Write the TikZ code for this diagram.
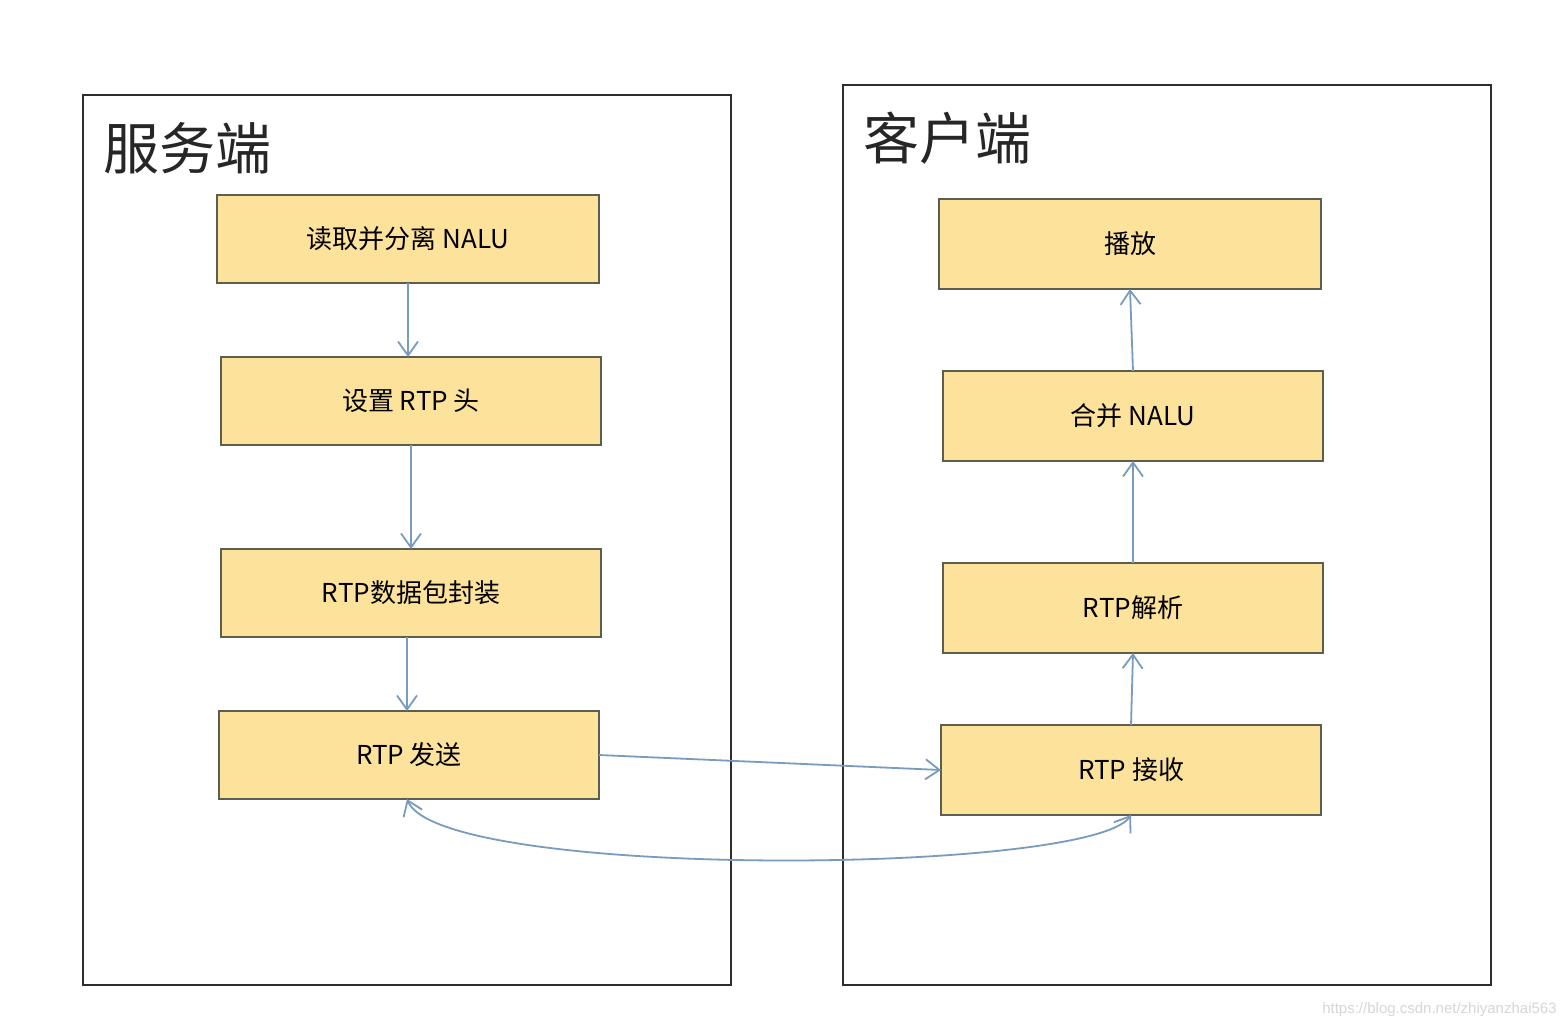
\documentclass[tikz,border=0pt]{standalone}
\usepackage{fontspec}
\setmainfont{Noto Sans CJK SC}
\newfontfamily\wmfont{Liberation Sans}
\usetikzlibrary{arrows.meta}
\definecolor{boxfill}{RGB}{252,226,154}
\definecolor{boxline}{RGB}{90,95,80}
\definecolor{arrowc}{RGB}{120,155,190}
\definecolor{panelline}{RGB}{45,45,45}
\tikzset{
  panel/.style={draw=panelline, line width=1pt, inner sep=0pt, outer sep=0pt},
  stepbox/.style={draw=boxline, fill=boxfill, line width=1pt, inner sep=0pt, outer sep=0pt,
    minimum width=191pt, minimum height=44pt, font=\fontsize{13}{15}\selectfont},
  title/.style={font=\fontsize{28}{32}\selectfont, inner sep=0pt, anchor=west, text=black!85},
  flow/.style={draw=arrowc, line width=0.9pt, -{Straight Barb[length=7pt, width=10pt]}},
}
\begin{document}
\begin{tikzpicture}[x=0.5pt, y=-0.5pt]
\useasboundingbox (0,0) rectangle (1566,1028);
% panels
\node[panel, minimum width=324pt, minimum height=445pt] (lp) at (407,540) {};
\node[panel, minimum width=324pt, minimum height=450pt] (rp) at (1167,535) {};
\node[title] (lt) at (103,148) {服务端};
\node[title] (rt) at (863,138) {客户端};
% left boxes
\node[stepbox] (b1) at (408,239) {读取并分离 NALU};
\node[stepbox, minimum width=190pt] (b2) at (411,401) {设置 RTP 头};
\node[stepbox, minimum width=190pt] (b3) at (411,593) {RTP数据包封装};
\node[stepbox, minimum width=190pt] (b4) at (409,755) {RTP 发送};
% right boxes
\node[stepbox, minimum height=45pt] (r1) at (1130,244) {播放};
\node[stepbox, minimum width=190pt, minimum height=45pt] (r2) at (1133,416) {合并 NALU};
\node[stepbox, minimum width=190pt, minimum height=45pt] (r3) at (1133,608) {RTP解析};
\node[stepbox, minimum width=190pt, minimum height=45pt] (r4) at (1131,770) {RTP 接收};
% arrows
\draw[flow] (b1.south -| 408,0) -- (b2.north -| 408,0);
\draw[flow] (b2.south) -- (b3.north);
\draw[flow] (b3.south -| 407,0) -- (b4.north -| 407,0);
\draw[flow] (b4.east) -- (r4.west);
\draw[flow, {Straight Barb[length=7pt, width=10pt]}-{Straight Barb[length=7pt, width=10pt]}]
  (b4.south -| 407,0) .. controls (440,880) and (1090,875) .. (r4.south);
\draw[flow] (r4.north) -- (r3.south);
\draw[flow] (r3.north) -- (r2.south);
\draw[flow] (r2.north) -- (r1.south);
% watermark
\node[font=\wmfont\fontsize{7.5}{9}\selectfont, text=black!16, anchor=east, inner sep=0pt] (wm) at (1557,1010) {https://blog.csdn.net/zhiyanzhai563};
\end{tikzpicture}
\end{document}
